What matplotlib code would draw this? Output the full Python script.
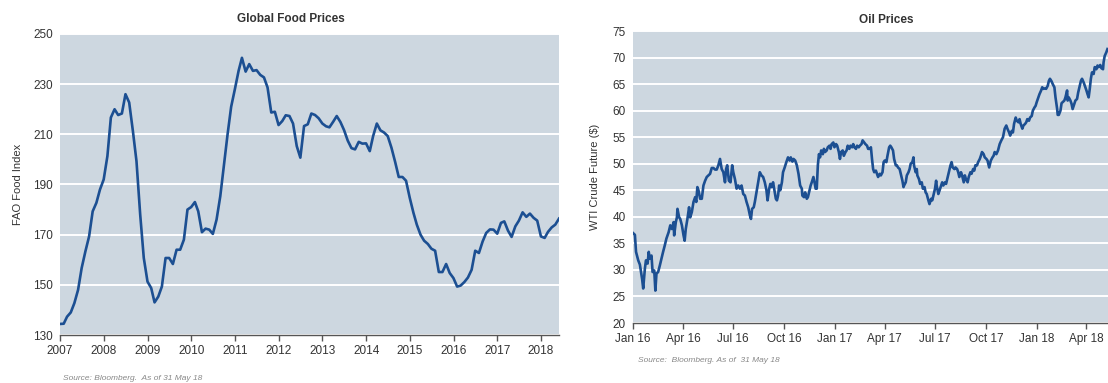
import numpy as np
import pandas as pd
import matplotlib
matplotlib.use("Agg")
import matplotlib.pyplot as plt
import matplotlib.dates as mdates

plt.rcParams['font.family'] = ['Liberation Sans', 'DejaVu Sans']

# FAO food price index, month-end values Dec 2006 - May 2018
food_index = [
    134.4, 134.5, 137.3, 139.0, 142.7, 148.0, 156.7, 163.3, 169.3, 179.3, 182.7, 188.0,
    192.0, 201.3, 216.7, 220.0, 217.7, 218.3, 226.0, 222.7, 211.3, 199.3, 178.0, 160.7,
    151.3, 148.7, 143.0, 145.3, 149.3, 160.7, 160.7, 158.3, 164.0, 164.0, 168.0, 180.0,
    181.0, 183.0, 179.3, 171.0, 172.4, 172.0, 170.3, 176.0, 185.3, 197.5, 210.0, 221.0,
    228.0, 235.3, 240.5, 235.0, 238.0, 235.3, 235.6, 233.7, 232.7, 228.7, 218.7, 219.0,
    213.7, 215.3, 217.6, 217.3, 214.3, 205.3, 200.7, 213.3, 214.0, 218.3, 217.7, 216.4,
    214.3, 213.2, 212.8, 215.0, 217.3, 214.9, 211.7, 207.5, 204.5, 204.0, 207.0, 206.3,
    206.4, 203.3, 209.3, 214.3, 211.6, 210.7, 209.3, 204.7, 199.0, 193.0, 193.0, 191.5,
    184.7, 178.7, 174.0, 170.0, 167.6, 166.3, 164.4, 163.6, 155.1, 155.1, 158.3, 154.7,
    152.7, 149.3, 149.7, 151.1, 152.9, 156.0, 163.6, 162.7, 167.3, 170.7, 172.1, 172.0,
    170.4, 174.7, 175.3, 171.6, 169.1, 173.3, 175.6, 178.9, 177.1, 178.4, 176.7, 175.6,
    169.3, 168.7, 171.1, 172.9, 174.0, 176.4,
]
food_dates = pd.date_range('2006-12-31', periods=len(food_index), freq='ME')
food_yticks = [130, 150, 170, 190, 210, 230, 250]

# WTI crude front-month future, days counted from 1 Jan 2016
oil_day = [
    0, 4, 6, 10, 13, 15, 17, 19, 22, 24, 27, 29, 31, 34, 36, 39, 41, 43, 46, 49,
    52, 55, 58, 61, 65, 68, 71, 74, 75, 78, 80, 81, 84, 86, 89, 92, 94, 96, 99, 102,
    104, 107, 110, 113, 115, 117, 119, 122, 125, 128, 131, 134, 137, 140, 143, 146, 149, 152, 155, 158,
    161, 164, 167, 169, 171, 174, 177, 180, 182, 185, 188, 191, 194, 197, 200, 203, 206, 209, 212, 214,
    216, 219, 221, 224, 227, 230, 233, 236, 239, 242, 244, 247, 249, 251, 254, 256, 259, 261, 263, 265,
    267, 270, 272, 275, 278, 281, 284, 286, 289, 291, 294, 297, 300, 303, 306, 307, 310, 312, 315, 317,
    319, 322, 324, 327, 329, 331, 333, 335, 337, 339, 341, 344, 346, 348, 351, 353, 356, 358, 360, 363,
    365, 368, 370, 373, 375, 377, 380, 382, 385, 387, 389, 392, 394, 397, 399, 401, 404, 406, 409, 411,
    414, 416, 419, 421, 424, 426, 429, 431, 433, 435, 437, 440, 442, 444, 447, 449, 452, 454, 456, 459,
    461, 464, 466, 468, 471, 473, 476, 478, 480, 483, 485, 488, 490, 491, 494, 496, 499, 501, 503, 506,
    508, 509, 512, 514, 515, 518, 520, 523, 525, 528, 530, 532, 535, 537, 540, 542, 544, 547, 549, 550,
    553, 555, 558, 560, 562, 565, 567, 570, 572, 575, 577, 579, 582, 584, 587, 589, 591, 594, 596, 599,
    601, 603, 606, 608, 611, 613, 616, 618, 620, 623, 625, 628, 630, 632, 635, 637, 640, 642, 645, 648,
    651, 653, 655, 658, 661, 664, 667, 670, 673, 676, 678, 681, 683, 686, 688, 690, 693, 695, 698, 700,
    702, 705, 707, 710, 712, 714, 717, 719, 722, 724, 727, 729, 731, 734, 736, 739, 741, 743, 746, 748,
    751, 753, 755, 758, 760, 763, 765, 768, 769, 771, 774, 776, 778, 781, 783, 786, 787, 789, 792, 794,
    796, 799, 801, 804, 806, 809, 811, 813, 816, 818, 821, 823, 825, 827, 829, 831, 834, 836, 839, 841,
    843, 846, 848, 851, 852, 854, 857, 859,
]
oil_price = [
    37.0, 36.6, 33.4, 31.8, 31.0, 29.6, 28.3, 26.5, 30.2, 31.8, 31.2, 33.4, 32.1, 32.7, 29.6, 29.9, 26.1, 29.3, 29.6, 30.8,
    32.1, 33.4, 34.6, 35.9, 37.1, 38.4, 37.7, 39.0, 36.5, 39.0, 39.9, 41.5, 39.9, 39.6, 38.4, 36.5, 35.5, 37.7, 39.6, 41.8,
    39.9, 40.9, 42.8, 43.7, 42.8, 45.6, 45.0, 43.4, 43.4, 45.9, 46.8, 47.5, 47.8, 48.1, 49.2, 49.2, 48.9, 48.9, 49.7, 50.9,
    49.0, 48.4, 46.5, 49.0, 49.7, 46.8, 46.5, 49.7, 48.4, 47.1, 45.3, 45.9, 45.3, 45.9, 44.3, 44.0, 42.8, 41.8, 40.3, 39.6,
    41.5, 41.8, 42.8, 44.6, 46.5, 48.4, 47.8, 47.5, 46.5, 45.0, 43.1, 45.3, 46.2, 45.6, 46.5, 45.3, 43.4, 43.1, 44.0, 45.9,
    45.0, 46.5, 48.4, 49.3, 50.3, 51.2, 50.6, 51.2, 50.4, 50.9, 50.6, 49.7, 48.1, 45.9, 45.3, 44.0, 43.7, 44.6, 43.4, 43.7,
    44.6, 45.9, 46.5, 47.5, 46.5, 45.3, 45.3, 49.7, 51.8, 51.2, 52.5, 51.8, 52.8, 52.2, 52.5, 53.1, 53.4, 52.8, 53.7, 54.0,
    53.1, 53.7, 53.4, 52.2, 50.9, 52.2, 52.5, 51.5, 52.2, 52.5, 53.4, 52.8, 53.4, 53.1, 53.7, 53.1, 52.8, 53.4, 53.1, 53.4,
    53.7, 54.4, 54.0, 53.7, 53.4, 52.8, 52.8, 53.1, 50.9, 49.0, 48.4, 48.7, 48.1, 47.5, 48.1, 47.8, 48.4, 50.3, 50.6, 50.3,
    51.5, 53.1, 53.4, 53.1, 52.5, 50.9, 49.7, 49.7, 49.3, 49.0, 48.1, 46.8, 45.6, 45.9, 46.5, 47.8, 48.4, 49.0, 50.0, 50.3,
    51.2, 49.7, 48.4, 49.0, 47.8, 47.1, 46.2, 46.5, 45.3, 45.6, 44.6, 44.3, 43.1, 42.4, 43.4, 43.1, 44.0, 45.3, 46.8, 45.9,
    44.3, 44.9, 45.9, 46.5, 45.9, 46.5, 46.2, 47.5, 48.4, 49.7, 50.3, 49.3, 49.0, 49.3, 49.0, 48.4, 47.5, 48.4, 47.8, 46.5,
    47.8, 47.1, 46.5, 47.5, 48.4, 48.1, 49.0, 48.7, 49.7, 49.7, 50.3, 50.9, 51.5, 52.2, 51.8, 51.2, 50.9, 50.6, 49.3, 50.6,
    51.2, 51.5, 52.2, 51.8, 52.5, 53.7, 54.4, 55.0, 56.6, 57.2, 56.6, 55.9, 55.3, 56.2, 55.9, 57.5, 58.7, 58.1, 57.8, 58.4,
    57.5, 56.6, 57.2, 57.5, 57.8, 58.4, 58.1, 58.7, 59.0, 60.0, 60.6, 60.9, 61.6, 62.5, 63.1, 63.8, 64.4, 64.1, 64.2, 64.1,
    64.7, 65.6, 66.0, 65.5, 65.0, 64.4, 62.5, 60.3, 59.2, 59.2, 60.0, 61.4, 61.6, 61.9, 62.5, 63.8, 61.9, 62.5, 61.9, 61.3,
    60.3, 61.3, 61.9, 62.2, 63.4, 64.7, 65.6, 66.0, 65.3, 64.7, 63.8, 63.1, 62.5, 64.1, 66.0, 67.2, 66.9, 68.2, 67.8, 68.5,
    68.2, 68.6, 68.0, 67.8, 69.1, 70.3, 71.0, 71.6,
]
oil_start = pd.Timestamp('2016-01-01')
oil_dates = oil_start + pd.to_timedelta(oil_day, unit='D')
oil_yticks = [20, 25, 30, 35, 40, 45, 50, 55, 60, 65, 70, 75]

bg = '#cdd7e0'
line_col = '#1c4f92'
txt = '#333333'

fig = plt.figure(figsize=(11.08, 3.83), dpi=100)
W, H = 1108, 383


def style_axes(ax, yticks):
    ax.set_facecolor(bg)
    for s in ['top', 'right', 'left']:
        ax.spines[s].set_visible(False)
    ax.spines['bottom'].set_color('#555555')
    ax.spines['bottom'].set_linewidth(1.0)
    ax.set_yticks(yticks)
    ax.set_ylim(yticks[0], yticks[-1])
    ax.yaxis.grid(True, color='white', linewidth=1.4)
    ax.set_axisbelow(True)
    ax.tick_params(axis='y', length=0, pad=5, labelsize=8.5, labelcolor=txt)
    ax.tick_params(axis='x', direction='out', length=4, width=1, color='#555555',
                   pad=3, labelsize=8.5, labelcolor=txt)


# left panel: food prices
ax1 = fig.add_axes([60 / W, (H - 335) / H, 499 / W, 301 / H])
ax1.plot(food_dates, food_index, color=line_col, linewidth=1.9)
style_axes(ax1, food_yticks)
ax1.set_xlim(food_dates[0], food_dates[-1])
ax1.xaxis.set_major_locator(mdates.YearLocator())
ax1.xaxis.set_major_formatter(mdates.DateFormatter('%Y'))
ax1.set_ylabel('FAO Food Index', fontsize=8, color=txt, labelpad=7)
fig.text(291 / W, 1 - 19 / H, 'Global Food Prices', ha='center', va='center',
         fontsize=8.5, fontweight='bold', color=txt)
fig.text(63 / W, 1 - 379 / H, 'Source: Bloomberg.  As of 31 May 18', ha='left',
         va='center', fontsize=6, style='italic', color='#888888')

# right panel: oil prices
ax2 = fig.add_axes([632.7 / W, (H - 323) / H, (W - 632.7) / W, 292 / H])
ax2.plot(oil_dates, oil_price, color=line_col, linewidth=1.9)
style_axes(ax2, oil_yticks)
ax2.set_xlim(oil_start, oil_start + pd.Timedelta(days=860))
ax2.xaxis.set_major_locator(mdates.MonthLocator(bymonth=[1, 4, 7, 10]))
ax2.xaxis.set_major_formatter(mdates.DateFormatter('%b %y'))
ax2.set_ylabel('WTI Crude Future ($)', fontsize=8, color=txt, labelpad=9)
fig.text(886 / W, 1 - 20 / H, 'Oil Prices', ha='center', va='center',
         fontsize=8.5, fontweight='bold', color=txt)
fig.text(638 / W, 1 - 361 / H, 'Source:  Bloomberg. As of  31 May 18', ha='left',
         va='center', fontsize=6, style='italic', color='#888888')

fig.savefig('out.png', dpi=100, facecolor='white')
